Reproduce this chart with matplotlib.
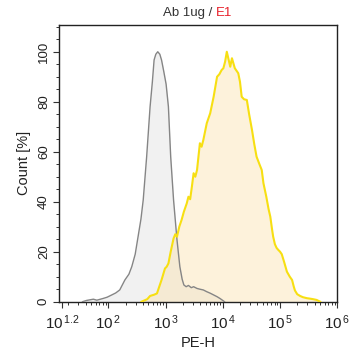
import numpy as np
import matplotlib
matplotlib.use("Agg")
import matplotlib.pyplot as plt
from matplotlib.ticker import FixedLocator, LogLocator, MultipleLocator, NullFormatter

plt.rcParams['font.family'] = ['Liberation Sans', 'DejaVu Sans']
plt.rcParams['mathtext.fontset'] = 'custom'
plt.rcParams['mathtext.rm'] = 'Liberation Sans'
plt.rcParams['mathtext.it'] = 'Liberation Sans'

# ---- data (log10 of PE-H, count %) ----
ctrl_log = [1.55, 1.62, 1.74, 1.80, 1.91, 1.98, 2.06, 2.13, 2.20, 2.29, 2.36, 2.41,
            2.47, 2.52, 2.57, 2.61, 2.67, 2.73, 2.77, 2.80, 2.83, 2.864, 2.90, 2.93,
            2.97, 3.01, 3.05, 3.09, 3.14, 3.20, 3.25, 3.29, 3.32, 3.36, 3.40, 3.45,
            3.49, 3.55, 3.60, 3.66, 3.72, 3.78, 3.84, 3.90, 3.95, 4.00, 4.03]
ctrl_pct = [0, 0.5, 1.0, 0.6, 1.3, 1.8, 2.7, 3.5, 4.7, 8.7, 11, 14,
            19, 26, 33, 40.7, 58, 78, 88, 96.7, 99, 100, 99, 96.7,
            92, 87, 78, 58, 40.7, 24.7, 14, 9, 6.7, 6.0, 6.5, 5.6,
            6.0, 5.3, 5.0, 4.7, 4.0, 3.4, 2.7, 2.0, 1.3, 0.5, 0]

e1_log = [2.58, 2.62, 2.68, 2.73, 2.80, 2.85, 2.89, 2.93, 2.96, 2.99, 3.02, 3.05,
          3.09, 3.14, 3.17, 3.20, 3.24, 3.28, 3.32, 3.37, 3.40, 3.43, 3.46, 3.49,
          3.52, 3.55, 3.60, 3.63, 3.66, 3.72, 3.78, 3.84, 3.90, 3.94, 3.98, 4.01,
          4.04, 4.07, 4.10, 4.13, 4.16, 4.19, 4.21, 4.27, 4.30, 4.33, 4.37, 4.42,
          4.46, 4.51, 4.55, 4.59, 4.64, 4.68, 4.71, 4.76, 4.80, 4.83, 4.86, 4.88,
          4.91, 4.94, 4.97, 5.00, 5.03, 5.07, 5.12, 5.17, 5.21, 5.24, 5.26, 5.30,
          5.35, 5.40, 5.47, 5.53, 5.58, 5.64, 5.70]
e1_pct = [0, 0.4, 1.0, 2.3, 2.8, 3.3, 6, 8.7, 11, 13.3, 14, 15.3,
          20, 25.3, 27, 26, 30, 32.7, 36, 39.3, 42, 41, 46, 51.4,
          50, 52.7, 63.4, 62, 64.7, 71.4, 75.4, 82, 90, 91, 92.7, 93.4,
          96, 100, 97, 94, 97.4, 95, 93.4, 91.4, 88, 82, 81, 80.7,
          75, 68.7, 63, 58, 55, 52.7, 47.4, 42, 37, 34, 29, 26,
          23, 21.5, 20.7, 20, 19, 16, 12, 10, 8.7, 6, 4.5, 3.0,
          2.3, 1.8, 1.4, 1.2, 1.0, 0.7, 0]

xtick_exp = [1.2, 2, 3, 4, 5, 6]
xtick_labels = [r'$10^{\,1.2}$', r'$10^{\,2}$', r'$10^{\,3}$', r'$10^{\,4}$', r'$10^{\,5}$', r'$10^{\,6}$']
yticks = [0, 20, 40, 60, 80, 100]

# ---- figure ----
fig = plt.figure(figsize=(3.56, 3.6), dpi=100)
ax = fig.add_axes([59 / 356, (360 - 301.7) / 360, (337.3 - 59) / 356, (301.7 - 25) / 360])

cx = 10 ** np.array(ctrl_log)
ex = 10 ** np.array(e1_log)

ax.fill_between(cx, ctrl_pct, 0, color='#e9e9e9', alpha=0.6, lw=0, zorder=1)
ax.fill_between(ex, e1_pct, 0, color='#fbe3b0', alpha=0.45, lw=0, zorder=2)
ax.plot(cx, ctrl_pct, color='#858585', lw=1.0, zorder=3)
ax.plot(ex, e1_pct, color='#f7df12', lw=1.5, zorder=4)

ax.set_xscale('log')
ax.set_xlim(10 ** 1.139, 10 ** 6)
ax.set_ylim(0, 110.7)

ax.xaxis.set_major_locator(FixedLocator([10 ** e for e in xtick_exp]))
ax.set_xticklabels(xtick_labels, fontsize=11, color='#222222')
ax.xaxis.set_minor_locator(LogLocator(base=10, subs=np.arange(2, 10), numticks=20))
ax.xaxis.set_minor_formatter(NullFormatter())

ax.set_yticks(yticks)
ax.set_yticklabels([str(v) for v in yticks], fontsize=9.5, rotation=90, va='center', color='#222222')
ax.yaxis.set_minor_locator(MultipleLocator(5))

ax.tick_params(axis='both', which='major', direction='out', length=4.5, width=0.8, color='#333333')
ax.tick_params(axis='both', which='minor', direction='out', length=2.5, width=0.7, color='#333333')
ax.tick_params(axis='x', which='major', pad=4)
ax.tick_params(axis='y', which='major', pad=2)

for s in ax.spines.values():
    s.set_linewidth(1.0)
    s.set_color('#222222')

ax.set_xlabel('PE-H', fontsize=10.5, labelpad=3, color='#222222')
ax.set_ylabel('Count [%]', fontsize=10.5, labelpad=5, color='#222222')

# title with two colours
t1 = fig.text(0.5, 0.965, 'Ab 1ug / ', ha='right', va='center', fontsize=9.5, color='#333333')
fig.canvas.draw()
bb = t1.get_window_extent()
x0 = 198 / 356
w = fig.text(0, 0, 'E1', fontsize=9.5)
fig.canvas.draw()
wE = w.get_window_extent().width / fig.bbox.width
w.remove()
wA = bb.width / fig.bbox.width
start = x0 - (wA + wE) / 2
t1.set_position((start + wA, 0.965))
fig.text(start + wA, 0.965, 'E1', ha='left', va='center', fontsize=9.5, color='#e8202a')

fig.savefig('out.png', dpi=100)
